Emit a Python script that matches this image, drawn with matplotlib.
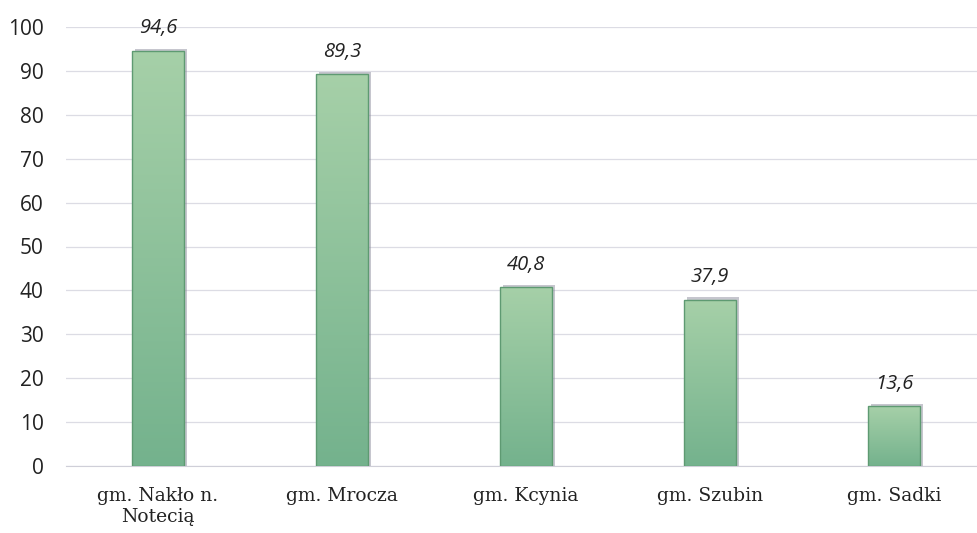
import matplotlib.pyplot as plt
import numpy as np
from matplotlib.colors import LinearSegmentedColormap

gminy = ["gm. Nakło n.\nNotecią", "gm. Mrocza", "gm. Kcynia", "gm. Szubin", "gm. Sadki"]
wartosci = [94.6, 89.3, 40.8, 37.9, 13.6]
etykiety = ["94,6", "89,3", "40,8", "37,9", "13,6"]

fig = plt.figure(figsize=(9.77, 5.33), dpi=100)
ax = fig.add_axes([66 / 977, 67 / 533, 911 / 977, 439 / 533])

x = np.arange(len(wartosci))
width = 0.28

# shadow
ax.bar(x + 0.016, np.array(wartosci) + 0.8, width, bottom=-0.3, color="#8e8e9e",
       alpha=0.5, edgecolor="none", zorder=2)
bars = ax.bar(x, wartosci, width, color="none", edgecolor="#5e9a72",
              linewidth=1.0, zorder=4)

# vertical gradient fill
cmap = LinearSegmentedColormap.from_list("g", ["#74b28d", "#a6d0a8"])
grad = np.linspace(0, 1, 256).reshape(-1, 1)
for b in bars:
    x0, y0 = b.get_x(), b.get_y()
    im = ax.imshow(grad, extent=[x0, x0 + b.get_width(), y0, y0 + b.get_height()],
                   origin="lower", cmap=cmap, aspect="auto", zorder=3)
    im.set_clip_path(b)

for xi, v, t in zip(x, wartosci, etykiety):
    ax.text(xi, v + 2.8, t, ha="center", va="bottom", fontsize=14.5,
            style="italic", family="Open Sans", color="#222222")

ax.set_xlim(-0.5, 4.45)
ax.set_ylim(0, 100)
ax.set_yticks(range(0, 101, 10))
ax.set_xticks(x)
ax.set_xticklabels(gminy, family="DejaVu Serif", fontsize=13.5, color="#222222",
                   linespacing=1.25)
ax.tick_params(axis="y", labelsize=15, length=0, pad=16, labelcolor="#222222")
ax.tick_params(axis="x", length=0, pad=15)
for lbl in ax.get_yticklabels():
    lbl.set_family("Open Sans")

ax.grid(axis="y", color="#dcdce4", linewidth=0.9, zorder=0)
ax.set_axisbelow(True)
for s in ["top", "right", "left"]:
    ax.spines[s].set_visible(False)
ax.spines["bottom"].set_color("#cfcfd8")

plt.savefig("out.png", dpi=100)
